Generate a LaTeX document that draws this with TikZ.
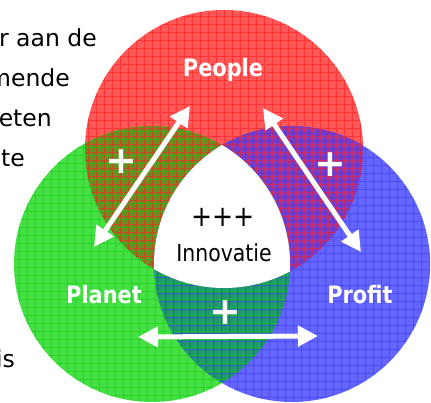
\documentclass[tikz,border=0pt]{standalone}
\usepackage{fontspec}
\setmainfont{DejaVu Sans}[FakeStretch=0.87]
\newfontfamily\widefont{DejaVu Sans}
\usepackage{xcolor}
\usetikzlibrary{arrows.meta}

\definecolor{peoplered}{HTML}{FF5858}
\definecolor{planetgreen}{HTML}{44E044}
\definecolor{profitblue}{HTML}{6464FF}
\definecolor{redgreen}{HTML}{6C8A20}
\definecolor{redblue}{HTML}{7C3EC6}
\definecolor{greenblue}{HTML}{20966C}
\definecolor{redline}{HTML}{FF1E1E}
\definecolor{greenline}{HTML}{10D010}
\definecolor{blueline}{HTML}{3C3CF4}

\begin{document}
\begin{tikzpicture}[x=1pt,y=-1pt,
    lbl/.style={text=white,font=\bfseries\fontsize{24}{28}\selectfont},
    plus/.style={text=white,font=\widefont\bfseries\fontsize{38}{40}\selectfont,inner sep=0pt},
    side/.style={anchor=base east,inner sep=0pt,font=\widefont\fontsize{23.5}{28}\selectfont},
    arr/.style={white,line width=5pt,{Triangle[length=20pt,width=20pt]}-{Triangle[length=20pt,width=20pt]}}]
    \useasboundingbox (0,0) rectangle (431,403);
    \coordinate (cr) at (224,149);
    \coordinate (cg) at (152,264);
    \coordinate (cb) at (292,264);
    % circles and overlaps
    \fill [peoplered] (cr) circle (139pt);
    \fill [planetgreen] (cg) circle (138pt);
    \fill [profitblue] (cb) circle (138pt);
    \begin{scope}
      \clip (cr) circle (139pt);
      \fill [redgreen] (cg) circle (138pt);
      \fill [redblue] (cb) circle (138pt);
    \end{scope}
    \begin{scope}
      \clip (cg) circle (138pt);
      \fill [greenblue] (cb) circle (138pt);
    \end{scope}
    % grids
    \foreach \c/\r/\col/\off in {cr/139/redline/0, cg/138/greenline/3, cb/138/blueline/5} {
      \begin{scope}
        \clip (\c) circle (\r pt);
        \draw [\col, opacity=0.6, line width=0.6pt, step=8pt, shift={(\off,\off)}] (-8,-8) grid (440,410);
      \end{scope}
    }
    \begin{scope}
      \clip (cr) circle (139pt);
      \clip (cg) circle (138pt);
      \fill [white] (cb) circle (138pt);
    \end{scope}
    % arrows
    \coordinate (a1) at (94,247);
    \coordinate (b1) at (190,106);
    \coordinate (a2) at (263,108);
    \coordinate (b2) at (361,252);
    \coordinate (a3) at (138,337);
    \coordinate (b3) at (318,336);
    \draw [arr] (a1) -- (b1);
    \draw [arr] (a2) -- (b2);
    \draw [arr] (a3) -- (b3);
    % labels
    \node [lbl] (people) at (223,70) {People};
    \node [lbl] (planet) at (104,295) {Planet};
    \node [lbl] (profit) at (360,295) {Profit};
    \node [plus] (p1) at (121,162) {+};
    \node [plus] (p2) at (330,165) {+};
    \node [plus] (p3) at (225,313) {+};
    \node [font=\fontsize{29}{32}\selectfont] (three) at (223,217) {+++};
    \node [anchor=base,inner sep=0pt,font=\fontsize{23.5}{26}\selectfont] (innov) at (224,262) {Innovatie};
    % text on the left
    \node [side] (t1) at (97,47) {r aan de};
    \node [side] (t2) at (70,87) {mende};
    \node [side] (t3) at (52,127) {eten};
    \node [side] (t4) at (25,167) {te};
    \node [side] (t5) at (15,367) {is};
\end{tikzpicture}
\end{document}
